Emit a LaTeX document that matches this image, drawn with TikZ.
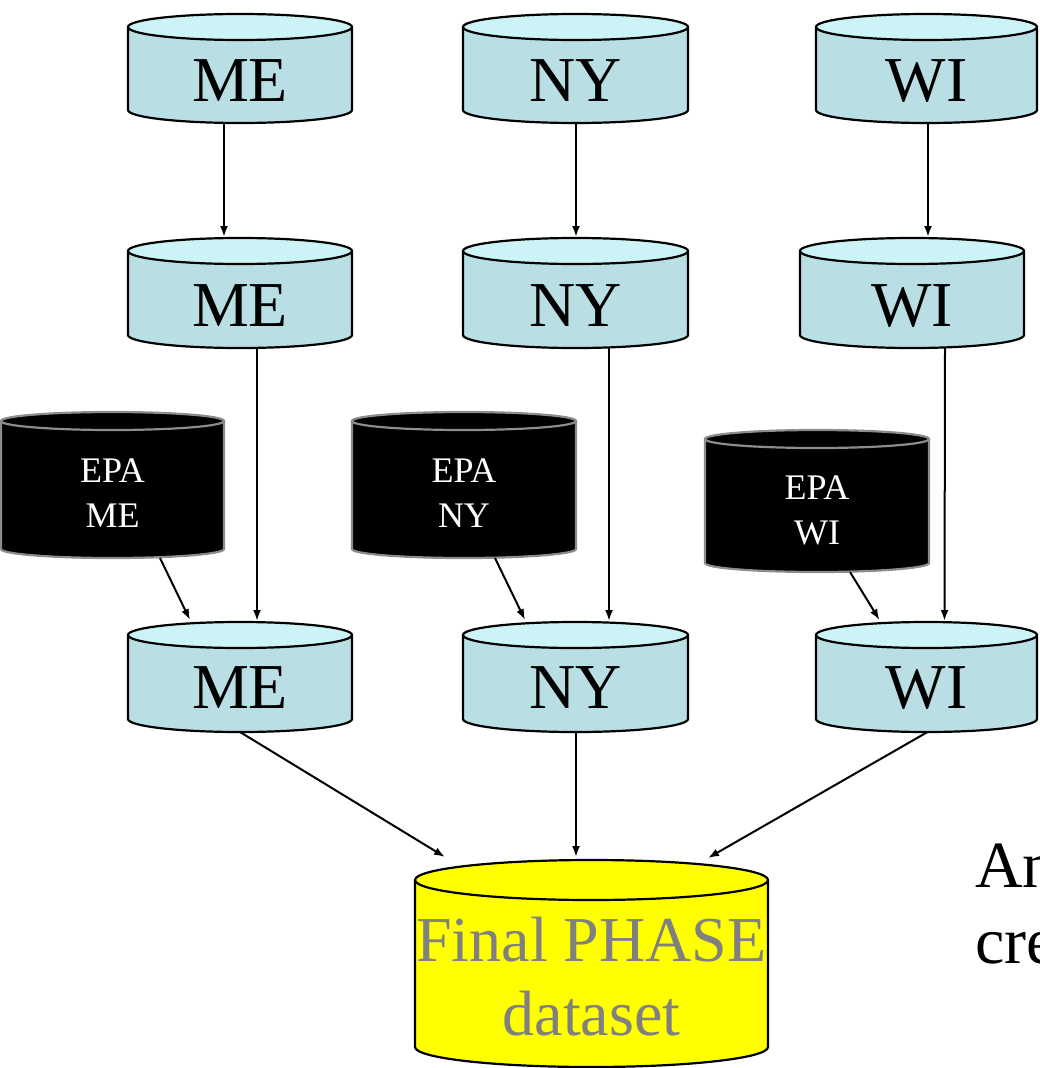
\documentclass[tikz,border=0pt]{standalone}
\usepackage{fontspec}
\setmainfont{Liberation Serif}
\usetikzlibrary{arrows.meta}
\definecolor{cylbody}{RGB}{185,223,228}
\definecolor{cyltop}{RGB}{204,244,247}
\definecolor{epaedge}{RGB}{140,140,140}
\definecolor{finaltext}{RGB}{128,128,128}
\definecolor{finfill}{RGB}{255,255,0}
\newcommand\dbc[9]{%
 \fill[#7] (#2,-#4) -- (#2,-#5) arc[start angle=180,end angle=360,x radius={(#3-#2)/2},y radius=#6] -- (#3,-#4) -- cycle;
 \draw[#9,line width=2.2pt] (#2,-#4) -- (#2,-#5) arc[start angle=180,end angle=360,x radius={(#3-#2)/2},y radius=#6] -- (#3,-#4);
 \draw[#9,fill=#8,line width=2.2pt] ({(#2+#3)/2},-#4) ellipse[x radius={(#3-#2)/2}, y radius=#6];
 \node[inner sep=0pt,outer sep=0pt,minimum width={(#3-#2)*1pt}, minimum height={(#5-#4+2*#6)*1pt}] (#1) at ({(#2+#3)/2},{-(#4+#5)/2}) {};
}
\tikzset{
  bigtxt/.style={font=\fontsize{64}{70}\selectfont, anchor=base, inner sep=0pt},
  epatxt/.style={font=\fontsize{36}{40}\selectfont, anchor=base, inner sep=0pt, text=white},
  fintxt/.style={font=\fontsize{64}{70}\selectfont, anchor=base, inner sep=0pt, text=finaltext},
  side/.style={font=\fontsize{66}{70}\selectfont, anchor=base west, inner sep=0pt},
  conn/.style={line width=2pt, -{Latex[length=11pt,width=8pt]}},
}
\begin{document}
\begin{tikzpicture}[x=1pt,y=1pt]
\useasboundingbox (0,0) rectangle (1039,-1068);
\clip (0,0) rectangle (1039,-1068);
% top row
\dbc{ME1}{128}{352}{27}{110}{13}{cylbody}{cyltop}{black}
\dbc{NY1}{463}{688}{27}{110}{13}{cylbody}{cyltop}{black}
\dbc{WI1}{816}{1037}{27}{110}{13}{cylbody}{cyltop}{black}
\node[bigtxt] (ME1t) at (240,-101) {ME};
\node[bigtxt] (NY1t) at (575.5,-101) {NY};
\node[bigtxt] (WI1t) at (926.5,-101) {WI};
% second row
\dbc{ME2}{128}{352}{251}{335}{13}{cylbody}{cyltop}{black}
\dbc{NY2}{463}{688}{251}{335}{13}{cylbody}{cyltop}{black}
\dbc{WI2}{800}{1024}{251}{335}{13}{cylbody}{cyltop}{black}
\node[bigtxt] (ME2t) at (240,-326) {ME};
\node[bigtxt] (NY2t) at (575.5,-326) {NY};
\node[bigtxt] (WI2t) at (912,-326) {WI};
% EPA
\dbc{EPAME}{1}{224}{421}{549}{9}{black}{black}{epaedge}
\dbc{EPANY}{352}{576}{421}{549}{9}{black}{black}{epaedge}
\dbc{EPAWI}{705}{929}{439}{563}{9}{black}{black}{epaedge}
\node[epatxt] (EPAMEa) at (112.5,-482) {EPA};
\node[epatxt] (EPAMEb) at (112.5,-527) {ME};
\node[epatxt] (EPANYa) at (464,-482) {EPA};
\node[epatxt] (EPANYb) at (464,-527) {NY};
\node[epatxt] (EPAWIa) at (817,-499) {EPA};
\node[epatxt] (EPAWIb) at (817,-544) {WI};
% third row
\dbc{ME3}{128}{352}{635}{719}{13}{cylbody}{cyltop}{black}
\dbc{NY3}{463}{688}{635}{719}{13}{cylbody}{cyltop}{black}
\dbc{WI3}{816}{1037}{635}{719}{13}{cylbody}{cyltop}{black}
\node[bigtxt] (ME3t) at (240,-708) {ME};
\node[bigtxt] (NY3t) at (575.5,-708) {NY};
\node[bigtxt] (WI3t) at (926.5,-708) {WI};
% final
\dbc{FIN}{415}{768}{880}{1047}{20}{finfill}{finfill}{black}
\node[fintxt] (FINa) at (591.5,-961) {Final PHASE};
\node[fintxt] (FINb) at (591.5,-1035) {dataset};
% side text
\node[side] (S1) at (975,-887) {An};
\node[side] (S2) at (975,-963) {cre};
% connectors
\draw[conn] ([xshift=-16pt]ME1.south) -- ([xshift=-16pt,yshift=1pt]ME2.north);
\draw[conn] ([xshift=0.5pt]NY1.south) -- ([xshift=0.5pt,yshift=1pt]NY2.north);
\draw[conn] ([xshift=1.5pt]WI1.south) -- ([xshift=16pt,yshift=1pt]WI2.north);
\draw[conn] ([xshift=17pt]ME2.south) -- ([xshift=17pt,yshift=1pt]ME3.north);
\draw[conn] ([xshift=33.5pt]NY2.south) -- ([xshift=33.5pt,yshift=1pt]NY3.north);
\draw[conn] ([xshift=33pt]WI2.south) -- ([xshift=18pt,yshift=1pt]WI3.north);
\draw[conn] ([xshift=47.5pt]EPAME.south) -- ([xshift=-50pt,yshift=2pt]ME3.north);
\draw[conn] ([xshift=31pt]EPANY.south) -- ([xshift=-50.5pt,yshift=2pt]NY3.north);
\draw[conn] ([xshift=33pt]EPAWI.south) -- ([xshift=-47pt,yshift=2pt]WI3.north);
\draw[conn] (ME3.south) -- ([xshift=-146.5pt,yshift=3pt]FIN.north);
\draw[conn] ([xshift=0.5pt]NY3.south) -- ([xshift=-15.5pt,yshift=3pt]FIN.north);
\draw[conn] ([xshift=1pt]WI3.south) -- ([xshift=116.5pt,yshift=2pt]FIN.north);
\end{tikzpicture}
\end{document}
